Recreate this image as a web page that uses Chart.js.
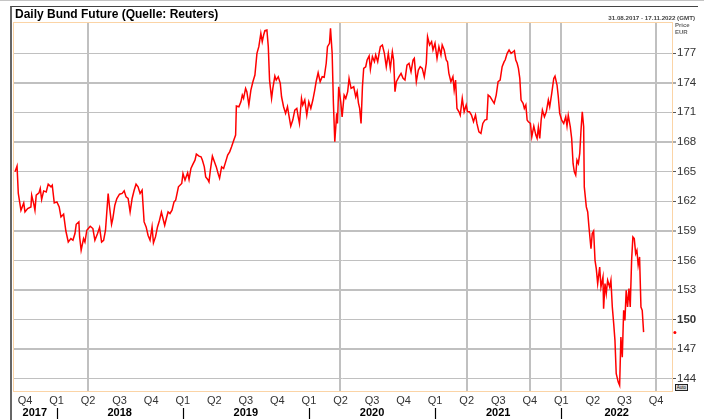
<!DOCTYPE html>
<html>
<head>
<meta charset="utf-8">
<script src="https://cdn.jsdelivr.net/npm/chart.js@4.4.0/dist/chart.umd.min.js"></script>
<style>
  html, body { margin: 0; padding: 0; background: #fff; }
  #wrap { position: relative; width: 704px; height: 420px; overflow: hidden; font-family: "Liberation Sans", Arial, sans-serif; }
  #topline { position: absolute; left: 0; top: 0; width: 704px; height: 1px; background: #c4c4c4; }
  #frame { position: absolute; left: 10px; top: 6px; width: 686px; height: 420px; border-top: 1px solid #444; border-left: 2px solid #666; }
  #chart { position: absolute; left: 0; top: 0; }
  #title { position: absolute; left: 15px; top: 8px; font-weight: bold; font-size: 12px; line-height: 12px; color: #000; }
  #range { position: absolute; right: 9px; top: 14px; font-weight: bold; font-size: 6.2px; line-height: 7px; color: #444; }
  #unit { position: absolute; left: 675px; top: 22px; font-weight: bold; font-size: 6px; line-height: 7px; color: #666; }
  #auto { position: absolute; left: 675px; top: 384px; width: 11px; height: 5px; border: 1px solid #222; background: #ddd; font-size: 4.5px; line-height: 5px; text-align: center; color: #000; }
</style>
</head>
<body>
<div id="wrap">
  <div id="topline"></div>
  <div id="frame"></div>
  <canvas id="chart" width="704" height="420"></canvas>
  <div id="title">Daily Bund Future (Quelle: Reuters)</div>
  <div id="range">31.08.2017 - 17.11.2022 (GMT)</div>
  <div id="unit">Price<br>EUR</div>
  <div id="auto">Auto</div>
</div>
<script>
// time as decimal year, price in EUR
const times = [
  2017.671, 2017.687, 2017.697, 2017.718, 2017.740, 2017.750, 2017.771, 2017.797, 2017.803, 2017.819,
  2017.829, 2017.839, 2017.861, 2017.871, 2017.882, 2017.898, 2017.918, 2017.934, 2017.956, 2017.966,
  2017.982, 2018.003, 2018.021, 2018.035, 2018.056, 2018.074, 2018.093, 2018.114, 2018.130, 2018.146,
  2018.156, 2018.177, 2018.183, 2018.195, 2018.214, 2018.225, 2018.240, 2018.267, 2018.288, 2018.304,
  2018.325, 2018.341, 2018.357, 2018.373, 2018.388, 2018.409, 2018.420, 2018.436, 2018.446, 2018.462,
  2018.478, 2018.499, 2018.520, 2018.536, 2018.551, 2018.567, 2018.583, 2018.599, 2018.615, 2018.630,
  2018.646, 2018.662, 2018.678, 2018.694, 2018.710, 2018.725, 2018.741, 2018.757, 2018.768, 2018.784,
  2018.800, 2018.816, 2018.831, 2018.847, 2018.857, 2018.873, 2018.884, 2018.899, 2018.915, 2018.931,
  2018.944, 2018.966, 2018.992, 2019.002, 2019.018, 2019.039, 2019.050, 2019.065, 2019.081, 2019.097,
  2019.108, 2019.129, 2019.145, 2019.156, 2019.171, 2019.182, 2019.198, 2019.208, 2019.219, 2019.235,
  2019.251, 2019.266, 2019.282, 2019.292, 2019.308, 2019.324, 2019.340, 2019.356, 2019.372, 2019.387,
  2019.403, 2019.419, 2019.425, 2019.445, 2019.461, 2019.472, 2019.482, 2019.498, 2019.508, 2019.524,
  2019.540, 2019.556, 2019.572, 2019.588, 2019.603, 2019.619, 2019.630, 2019.641, 2019.651, 2019.667,
  2019.678, 2019.688, 2019.704, 2019.714, 2019.730, 2019.741, 2019.757, 2019.773, 2019.783, 2019.799,
  2019.815, 2019.830, 2019.841, 2019.856, 2019.872, 2019.888, 2019.904, 2019.915, 2019.925, 2019.941,
  2019.951, 2019.967, 2019.983, 2019.999, 2020.015, 2020.031, 2020.046, 2020.057, 2020.073, 2020.089,
  2020.105, 2020.121, 2020.137, 2020.147, 2020.163, 2020.171, 2020.184, 2020.194, 2020.205, 2020.220,
  2020.226, 2020.236, 2020.252, 2020.263, 2020.279, 2020.292, 2020.307, 2020.318, 2020.334, 2020.355,
  2020.371, 2020.382, 2020.392, 2020.402, 2020.413, 2020.424, 2020.434, 2020.450, 2020.461, 2020.477,
  2020.487, 2020.503, 2020.519, 2020.529, 2020.545, 2020.556, 2020.566, 2020.582, 2020.598, 2020.613,
  2020.629, 2020.645, 2020.661, 2020.671, 2020.682, 2020.693, 2020.714, 2020.730, 2020.746, 2020.761,
  2020.777, 2020.793, 2020.809, 2020.825, 2020.835, 2020.851, 2020.867, 2020.882, 2020.898, 2020.914,
  2020.930, 2020.940, 2020.956, 2020.972, 2020.983, 2020.999, 2021.015, 2021.030, 2021.046, 2021.056,
  2021.072, 2021.088, 2021.098, 2021.109, 2021.125, 2021.141, 2021.151, 2021.162, 2021.173, 2021.189,
  2021.199, 2021.215, 2021.230, 2021.246, 2021.257, 2021.272, 2021.288, 2021.304, 2021.320, 2021.331,
  2021.347, 2021.363, 2021.378, 2021.394, 2021.410, 2021.420, 2021.436, 2021.452, 2021.468, 2021.484,
  2021.499, 2021.515, 2021.531, 2021.547, 2021.555, 2021.571, 2021.586, 2021.602, 2021.618, 2021.628,
  2021.639, 2021.650, 2021.660, 2021.671, 2021.681, 2021.697, 2021.707, 2021.719, 2021.729, 2021.739,
  2021.755, 2021.766, 2021.782, 2021.798, 2021.808, 2021.818, 2021.829, 2021.840, 2021.850, 2021.866,
  2021.881, 2021.897, 2021.908, 2021.924, 2021.940, 2021.950, 2021.966, 2021.976, 2021.987, 2022.003,
  2022.019, 2022.035, 2022.045, 2022.055, 2022.071, 2022.082, 2022.093, 2022.103, 2022.114, 2022.124,
  2022.135, 2022.146, 2022.156, 2022.166, 2022.177, 2022.182, 2022.198, 2022.209, 2022.219, 2022.235,
  2022.245, 2022.256, 2022.267, 2022.277, 2022.288, 2022.304, 2022.314, 2022.330, 2022.335, 2022.346,
  2022.356, 2022.367, 2022.383, 2022.393, 2022.404, 2022.415, 2022.425, 2022.435, 2022.451, 2022.462,
  2022.472, 2022.483, 2022.494, 2022.504, 2022.514, 2022.525, 2022.536, 2022.546, 2022.557, 2022.567,
  2022.578, 2022.589, 2022.599, 2022.609, 2022.620, 2022.631, 2022.641, 2022.652
];
const prices = [
  164.97, 165.55, 162.78, 161.08, 161.82, 160.91, 161.26, 161.42, 162.60, 161.76,
  161.08, 162.60, 162.84, 163.28, 162.17, 163.04, 162.94, 163.72, 163.45, 163.62,
  161.82, 161.93, 161.42, 160.40, 160.68, 158.98, 157.87, 158.21, 158.04, 158.72,
  159.66, 159.90, 158.38, 157.03, 158.21, 157.87, 159.06, 159.46, 159.23, 158.04,
  158.72, 159.33, 157.87, 158.04, 159.06, 162.78, 161.42, 159.66, 160.24, 161.59,
  162.27, 162.71, 162.78, 163.04, 162.43, 162.27, 160.91, 162.27, 163.11, 163.72,
  163.45, 162.78, 163.11, 159.90, 159.39, 158.55, 158.04, 159.39, 157.77, 158.38,
  159.39, 160.07, 160.88, 160.07, 159.56, 160.40, 160.91, 160.75, 161.08, 161.93,
  162.10, 163.45, 163.79, 164.80, 164.13, 164.87, 164.20, 165.31, 165.75, 166.15,
  166.76, 166.56, 166.49, 166.15, 165.47, 164.46, 164.20, 163.95, 165.14, 166.56,
  165.98, 165.47, 164.73, 164.33, 165.47, 165.31, 165.98, 166.66, 166.99, 167.50,
  168.11, 168.69, 171.63, 171.56, 172.06, 172.74, 172.41, 173.42, 173.08, 171.73,
  173.25, 174.09, 174.77, 176.97, 177.64, 179.00, 178.15, 178.82, 179.26, 179.33,
  177.64, 174.26, 172.41, 173.42, 174.67, 174.26, 174.60, 173.93, 172.57, 171.56,
  170.89, 171.56, 170.71, 169.60, 170.21, 171.22, 171.39, 170.54, 169.87, 172.41,
  171.73, 172.24, 170.71, 172.06, 171.39, 172.24, 173.25, 174.09, 175.00, 174.09,
  174.60, 174.54, 175.96, 177.64, 177.98, 179.50, 176.97, 171.90, 168.01, 170.89,
  169.87, 173.58, 172.06, 170.54, 172.74, 172.41, 173.08, 174.43, 173.42, 173.58,
  172.57, 173.08, 171.96, 171.39, 169.87, 173.58, 175.45, 175.61, 176.29, 176.70,
  175.35, 176.63, 176.12, 176.80, 176.12, 176.97, 177.64, 177.81, 176.97, 175.61,
  176.97, 175.45, 177.13, 176.29, 173.08, 174.09, 174.60, 174.94, 174.43, 174.26,
  175.78, 175.96, 175.10, 176.29, 176.46, 174.09, 175.28, 175.61, 175.45, 174.60,
  175.96, 178.65, 177.81, 178.15, 177.30, 177.98, 176.46, 177.64, 176.80, 177.81,
  177.30, 176.29, 176.12, 174.94, 174.09, 174.60, 173.25, 174.26, 171.39, 171.05,
  170.71, 172.41, 171.05, 171.73, 171.05, 171.05, 170.71, 170.04, 170.71, 169.87,
  169.02, 168.86, 169.87, 170.21, 170.28, 172.74, 172.57, 172.24, 171.90, 172.74,
  174.09, 174.26, 175.61, 176.12, 176.29, 176.97, 177.30, 176.97, 177.13, 177.23,
  176.29, 175.96, 175.45, 174.43, 172.24, 171.90, 171.39, 171.73, 170.21, 170.04,
  169.87, 168.51, 169.60, 168.69, 168.35, 169.47, 168.35, 170.21, 171.22, 170.54,
  171.05, 172.24, 171.56, 172.91, 174.43, 174.67, 173.76, 172.57, 170.89, 170.21,
  169.87, 170.54, 169.60, 170.71, 169.53, 168.35, 165.82, 164.97, 164.63, 166.15,
  165.82, 166.83, 169.19, 171.05, 169.53, 163.45, 161.42, 160.91, 159.39, 157.20,
  158.72, 158.98, 156.01, 155.17, 153.65, 155.33, 153.31, 154.32, 151.12, 153.65,
  152.64, 153.99, 153.31, 153.99, 151.28, 149.60, 147.90, 144.53, 143.68, 143.34,
  148.24, 146.21, 150.95, 149.93, 152.97, 151.28, 153.14, 151.28, 156.01, 158.38,
  158.21, 156.69, 157.03, 155.51, 156.35, 151.28, 150.95, 148.74
];
const lastTime = 2022.90;
const lastPrice = 148.7;

const priceTicks = [144, 147, 150, 153, 156, 159, 162, 165, 168, 171, 174, 177];
const thickPriceLines = [147, 153, 159, 168, 174];
const boldPriceTick = 150;

const quarterStarts = [
  2017.75,
  2018.0, 2018.25, 2018.5, 2018.75,
  2019.0, 2019.25, 2019.5, 2019.75,
  2020.0, 2020.25, 2020.5, 2020.75,
  2021.0, 2021.25, 2021.5, 2021.75,
  2022.0, 2022.25, 2022.5, 2022.75
];
const quarterNames = [
  'Q4',
  'Q1', 'Q2', 'Q3', 'Q4',
  'Q1', 'Q2', 'Q3', 'Q4',
  'Q1', 'Q2', 'Q3', 'Q4',
  'Q1', 'Q2', 'Q3', 'Q4',
  'Q1', 'Q2', 'Q3', 'Q4'
];
const gridQuarters = [2018.25, 2020.25, 2021.25, 2021.75, 2022.0, 2022.75];
const yearNames = ['2017', '2018', '2019', '2020', '2021', '2022'];
const yearStarts = [2018, 2019, 2020, 2021, 2022];

const xMin = 2017.655, xMax = 2022.877;
const yMin = 142.78, yMax = 180.14;

// year labels sit in the middle of the visible part of each year
const bounds = [xMin, ...yearStarts, xMax];
const yearCenters = yearNames.map((_, i) => (bounds[i] + bounds[i + 1]) / 2);

const font = 'Liberation Sans, Arial, sans-serif';

const frameLines = {
    id: 'frameLines',
    beforeDatasetsDraw(chart) {
        const a = chart.chartArea, ctx = chart.ctx;
        ctx.save();
        ctx.strokeStyle = '#fbd4a6';
        ctx.lineWidth = 1;
        ctx.strokeRect(a.left + 0.5, a.top + 0.5, a.right - a.left, a.bottom - a.top);
        ctx.restore();
    },
    afterDraw(chart) {
        const x = chart.scales.x, x2 = chart.scales.x2, ctx = chart.ctx;
        ctx.save();
        ctx.strokeStyle = '#000';
        ctx.lineWidth = 1.2;
        yearStarts.forEach(v => {
            const px = Math.round(x.getPixelForValue(v)) + 0.5;
            ctx.beginPath();
            ctx.moveTo(px, x2.top + 2);
            ctx.lineTo(px, x2.bottom - 1);
            ctx.stroke();
        });
        ctx.restore();
    }
};

new Chart(document.getElementById('chart'), {
    type: 'line',
    data: {
        datasets: [{
            data: times.map((t, i) => ({ x: t, y: prices[i] })),
            borderColor: '#ff0000',
            borderWidth: 1.5,
            pointRadius: 0,
            tension: 0,
            fill: false
        }, {
            data: [{ x: lastTime, y: lastPrice }],
            showLine: false,
            pointRadius: 1.5,
            pointBorderWidth: 0,
            pointBackgroundColor: '#ff0000',
            clip: false
        }]
    },
    options: {
        responsive: false,
        animation: false,
        devicePixelRatio: 1,
        layout: { padding: { left: 13, top: 22, right: 0, bottom: 0 } },
        plugins: { legend: { display: false }, tooltip: { enabled: false } },
        scales: {
            x: {
                type: 'linear', position: 'bottom', weight: 0,
                min: xMin, max: xMax,
                afterBuildTicks: s => { s.ticks = quarterStarts.map(v => ({ value: v })); },
                afterFit: s => { s.height = 15; },
                border: { display: false },
                grid: {
                    drawTicks: false,
                    lineWidth: 2,
                    color: c => (c.tick && gridQuarters.includes(c.tick.value)) ? '#c0c0c0' : 'rgba(0,0,0,0)'
                },
                ticks: {
                    autoSkip: false, maxRotation: 0, padding: 3,
                    color: '#333',
                    font: { family: font, size: 11 },
                    callback: (v, i) => quarterNames[i]
                }
            },
            x2: {
                type: 'linear', axis: 'x', position: 'bottom', weight: 1,
                min: xMin, max: xMax,
                afterBuildTicks: s => { s.ticks = yearCenters.map(v => ({ value: v })); },
                afterFit: s => { s.height = 14; },
                border: { display: false },
                grid: { display: false, drawTicks: false },
                ticks: {
                    autoSkip: false, maxRotation: 0, padding: 0,
                    color: '#000',
                    font: { family: font, size: 11, weight: 'bold' },
                    callback: (v, i) => yearNames[i]
                }
            },
            y: {
                type: 'linear', position: 'right',
                min: yMin, max: yMax,
                afterBuildTicks: s => { s.ticks = priceTicks.map(v => ({ value: v })); },
                afterFit: s => { s.width = 32; },
                border: { display: false },
                grid: {
                    color: '#c0c0c0',
                    lineWidth: c => (c.tick && thickPriceLines.includes(c.tick.value)) ? 2 : 1,
                    tickLength: 4,
                    tickWidth: 1,
                    tickColor: '#555'
                },
                ticks: {
                    padding: 1,
                    color: '#333',
                    font: c => ({ family: font, size: 11.5, weight: (c.tick && c.tick.value === boldPriceTick) ? 'bold' : 'normal' }),
                    callback: v => String(v)
                }
            }
        }
    },
    plugins: [frameLines]
});
</script>
</body>
</html>
